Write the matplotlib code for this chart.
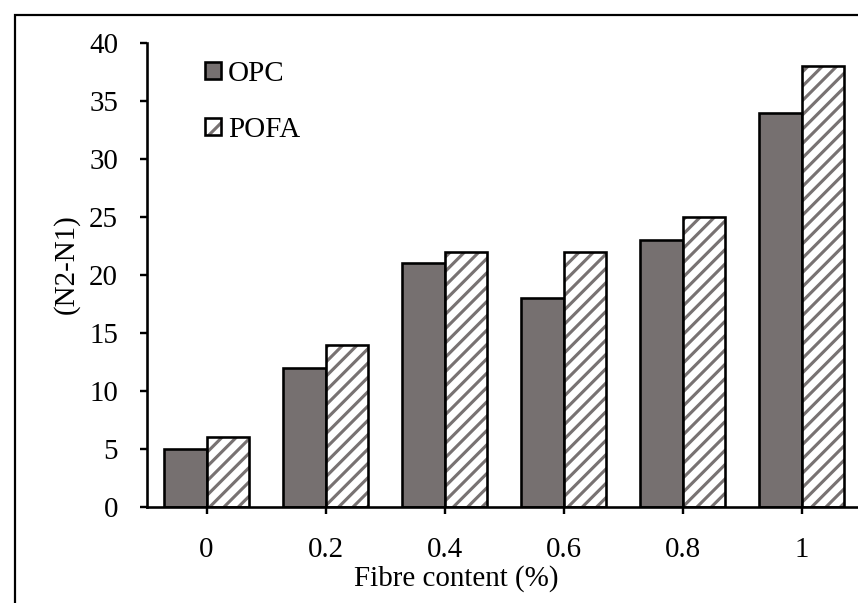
import matplotlib
matplotlib.use("Agg")
import matplotlib.pyplot as plt
from matplotlib.patches import Rectangle, Patch
from matplotlib.legend_handler import HandlerTuple
import numpy as np

categories = ["0", "0.2", "0.4", "0.6", "0.8", "1"]
opc = [5, 12, 21, 18, 23, 34]
pofa = [6, 14, 22, 22, 25, 38]
yticks = [0, 5, 10, 15, 20, 25, 30, 35, 40]

DPI = 86
W, H = 858, 603
plt.rcParams['font.family'] = ['Liberation Serif', 'DejaVu Serif']
plt.rcParams['hatch.linewidth'] = 2.6

def px2pt(p):
    return p * 72.0 / DPI

fs = px2pt(29)
hatch_gray = '#787272'
opc_gray = '#767070'

fig = plt.figure(figsize=(W / DPI, H / DPI), dpi=DPI)
ax = fig.add_axes([147 / W, 1 - 507 / H, (861 - 147) / W, (507 - 43) / H])

x = np.arange(len(categories))
bw = 0.36
lw = px2pt(2.6)
ax.bar(x - bw / 2, opc, width=bw, color=opc_gray, edgecolor='black', linewidth=lw)
# hatch layer (gray stripes), then black outline on top
ax.bar(x + bw / 2, pofa, width=bw, color='white', edgecolor=hatch_gray, linewidth=0, hatch='//')
ax.bar(x + bw / 2, pofa, width=bw, fill=False, edgecolor='black', linewidth=lw)

ax.set_xlim(-0.5, len(categories) - 0.5)
ax.set_ylim(0, 40)
ax.set_yticks(yticks)
ax.set_xticks(x)
ax.set_xticklabels(categories)
for s in ['top', 'right']:
    ax.spines[s].set_visible(False)
for s in ['left', 'bottom']:
    ax.spines[s].set_linewidth(px2pt(2.6))
ax.tick_params(axis='both', direction='out', length=px2pt(7), width=px2pt(2.4), labelsize=fs)
ax.tick_params(axis='y', pad=px2pt(22))
ax.tick_params(axis='x', pad=px2pt(23))

h_opc = Patch(facecolor=opc_gray, edgecolor='black', linewidth=px2pt(2.6))
h_pofa_fill = Patch(facecolor='white', edgecolor=hatch_gray, linewidth=0, hatch='/')
h_pofa_edge = Patch(fill=False, edgecolor='black', linewidth=px2pt(2.6))
leg = ax.legend([h_opc, (h_pofa_fill, h_pofa_edge)], ['OPC', 'POFA'], loc='upper left',
                bbox_to_anchor=(205 / W, 1 - 61 / H), bbox_transform=fig.transFigure,
                handler_map={tuple: HandlerTuple(ndivide=1, pad=0)},
                frameon=False, fontsize=fs, handlelength=0.55, handleheight=0.55,
                handletextpad=0.25, labelspacing=1.02, borderpad=0, borderaxespad=0)

fig.text(456.5 / W, 1 - 579 / H, "Fibre content (%)", ha='center', va='center', fontsize=fs)
fig.text(66 / W, 1 - 264 / H, "(N2-N1)", ha='center', va='center', rotation=90, fontsize=fs)

fig.patches.append(Rectangle((15 / W, -0.2), 1.5, 1.2 - 15 / H, transform=fig.transFigure,
                             fill=False, edgecolor='black', linewidth=px2pt(2.2), figure=fig))

fig.savefig("out.png", dpi=DPI)
